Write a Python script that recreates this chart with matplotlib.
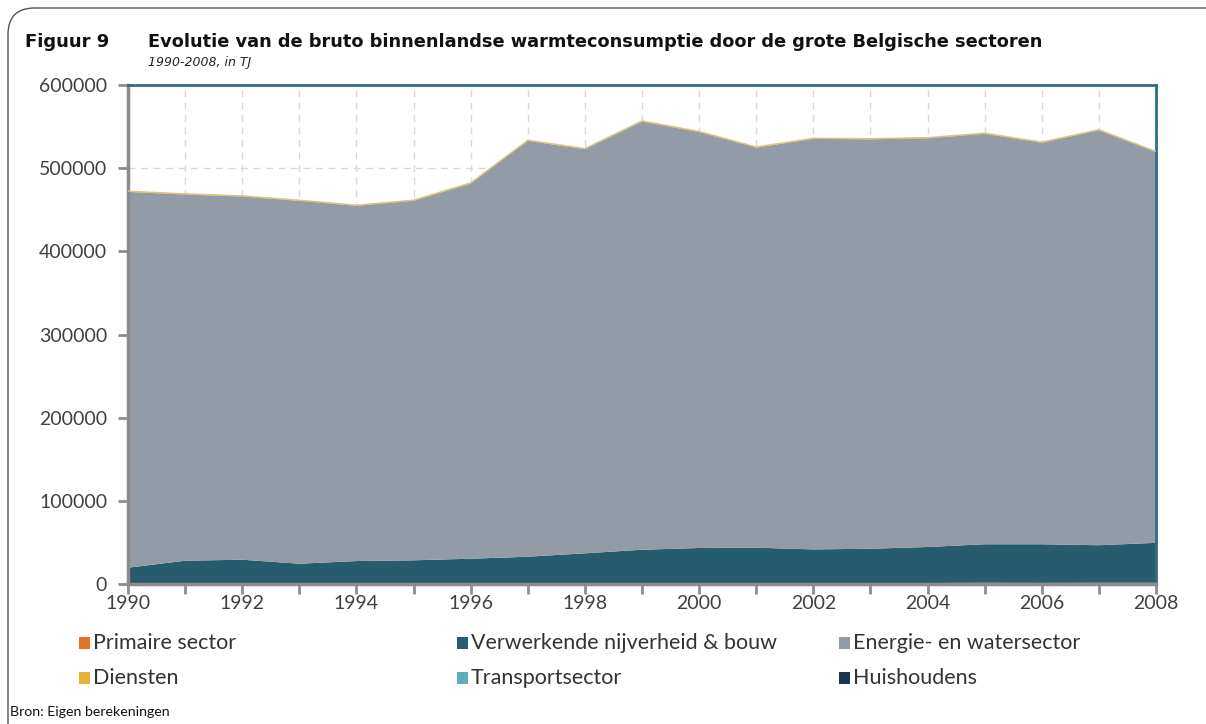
import matplotlib
matplotlib.use("Agg")
import matplotlib.pyplot as plt
from matplotlib.patches import Rectangle, FancyBboxPatch
import numpy as np

years = list(range(1990, 2009))
primaire = [0, 0, 0, 0, 0, 0, 0, 0, 0, 0, 0, 0, 0, 300, 1200, 1500, 1300, 1500, 1500]
verwerkend = [19600, 28000, 29200, 24400, 27600, 28500, 30400, 32800, 36900, 41200,
              43300, 43700, 41600, 42100, 43300, 46300, 46500, 45100, 48000]
totaal = [472400, 469200, 466800, 461600, 455600, 461600, 482400, 533700, 523700, 556900,
          544300, 525600, 536100, 535600, 536800, 542200, 531400, 546400, 520200]
diensten = [900, 900, 900, 900, 900, 900, 900, 900, 900, 900,
            900, 900, 900, 900, 900, 900, 900, 900, 900]
transport = [0] * 19
huishoudens = [0] * 19
energie = [t - p - v - d for t, p, v, d in zip(totaal, primaire, verwerkend, diensten)]

labels = ["Primaire sector", "Verwerkende nijverheid & bouw", "Energie- en watersector",
          "Diensten", "Transportsector", "Huishoudens"]
colors = ["#e07424", "#275b6e", "#939ba6", "#e6b234", "#5eabbb", "#1b3550"]
yticks = [0, 100000, 200000, 300000, 400000, 500000, 600000]

fig = plt.figure(figsize=(12.06, 7.24), dpi=100)
fig.patch.set_facecolor("white")

# outer rounded frame
frame = FancyBboxPatch((8 / 1206, -0.05), 1.2, 1.05 - 8 / 724,
                       boxstyle="round,pad=0,rounding_size=0.022",
                       transform=fig.transFigure, fill=False, edgecolor="#555555",
                       linewidth=1.0, mutation_aspect=1206 / 724)
fig.patches.append(frame)

ax = fig.add_axes([128 / 1206, 1 - 584 / 724, (1156 - 128) / 1206, (584 - 85) / 724])
ax.stackplot(years, primaire, verwerkend, energie, diensten, transport, huishoudens,
             colors=colors, linewidth=0, zorder=2)
top = np.array(totaal)
ax.plot(years, top, color="#d8c48a", linewidth=0.9, zorder=3)

ax.set_xlim(1990, 2008)
ax.set_ylim(0, 600000)
ax.set_yticks(yticks)
ax.set_yticklabels([str(v) for v in yticks])
ax.set_xticks(years)
ax.set_xticklabels([str(y) if y % 2 == 0 else "" for y in years])
ax.grid(True, axis="both", color="#d8d8d8", linestyle=(0, (5, 4)), linewidth=1.0, zorder=1)
ax.set_axisbelow(True)

for s in ["left", "bottom"]:
    ax.spines[s].set_color("#8c8c8c")
    ax.spines[s].set_linewidth(2.5)
for s in ["top", "right"]:
    ax.spines[s].set_color("#2f6d82")
    ax.spines[s].set_linewidth(2.0)
ax.tick_params(axis="both", colors="#8c8c8c", width=2, length=7, direction="out",
               labelcolor="#404040", labelsize=14)
for lab in ax.get_xticklabels() + ax.get_yticklabels():
    lab.set_family("Lato")
ax.tick_params(axis="x", pad=1)
ax.tick_params(axis="y", pad=8)

# titles
fig.text(25 / 1206, 1 - 47 / 724, "Figuur 9", fontsize=13, fontweight="bold",
         family="DejaVu Sans", color="#111111", va="baseline")
fig.text(148 / 1206, 1 - 47 / 724,
         "Evolutie van de bruto binnenlandse warmteconsumptie door de grote Belgische sectoren",
         fontsize=12.8, fontweight="bold", family="DejaVu Sans", color="#111111", va="baseline")
fig.text(148 / 1206, 1 - 66 / 724, "1990-2008, in TJ", fontsize=9, style="italic",
         family="DejaVu Sans", color="#222222", va="baseline")

# legend (row-wise)
colx = [79, 457, 839]
rowy = [643, 678]
for i, (lab, col) in enumerate(zip(labels, colors)):
    r, c = divmod(i, 3)
    x0 = colx[c]
    yc = rowy[r]
    fig.patches.append(Rectangle((x0 / 1206, 1 - (yc + 6) / 724), 11 / 1206, 12 / 724,
                                 transform=fig.transFigure, facecolor=col, edgecolor="none"))
    fig.text((x0 + 14) / 1206, 1 - yc / 724, lab, fontsize=15.5, family="Lato",
             color="#333333", va="center", ha="left")

fig.text(10 / 1206, 1 - 712 / 724, "Bron: Eigen berekeningen", fontsize=10.2,
         family="Lato", color="#111111", va="center")

fig.savefig("out.png", dpi=100)
